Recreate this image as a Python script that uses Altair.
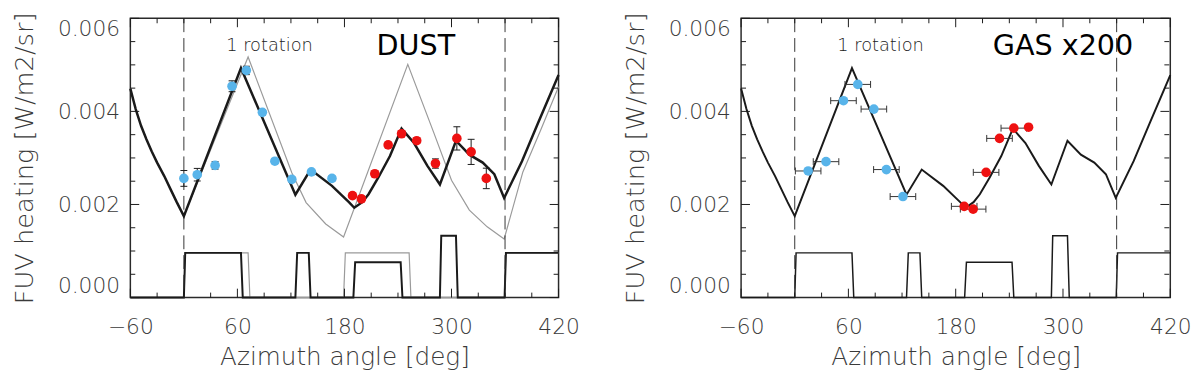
import altair as alt
import pandas as pd

# ---------------- data ----------------
MODEL_X = [-60, -54, -48, -42, -36, -30, -22, -15, -8, 0, 64, 125, 142, 166, 185, 191, 200, 207, 218, 231, 244,
           258, 273, 287, 305, 320, 335, 348, 359, 379, 397, 420]
MODEL_Y = [0.00449, 0.00405, 0.00369, 0.00340, 0.00314, 0.00290, 0.00261, 0.00233, 0.00205, 0.00175, 0.00493,
           0.00221, 0.00275, 0.00240, 0.00205, 0.00193, 0.00205, 0.00222, 0.00258, 0.00304, 0.00363, 0.00332,
           0.00283, 0.00243, 0.00337, 0.00307, 0.00290, 0.00265, 0.00214, 0.00293, 0.00375, 0.00478]

MODEL0_X = [-60, -54, -48, -42, -36, -30, -22, -15, -8, 0, 72, 121, 137, 159, 179, 251, 280, 300, 320, 340,
            359, 380, 400, 420]
MODEL0_Y = [0.00449, 0.00405, 0.00369, 0.00340, 0.00314, 0.00290, 0.00261, 0.00233, 0.00205, 0.00175, 0.00517,
            0.00268, 0.00204, 0.00158, 0.00130, 0.00501, 0.00355, 0.00252, 0.00188, 0.00152, 0.00126, 0.00270,
            0.00360, 0.00453]

STEP_X = [-60, 0, 1.5, 64, 66, 125, 127, 140, 142, 190, 192, 243, 245, 287, 288.5, 305, 307, 359.5, 361, 420]
STEP_Y = [0, 0, 0.00096, 0.00096, 0, 0, 0.00096, 0.00096, 0, 0, 0.00076, 0.00076, 0, 0, 0.00133, 0.00133,
          0, 0, 0.00096, 0.00096]

STEP0_X = [-60, 0, 1.5, 72, 74, 179, 181, 252.5, 254.5, 359.5, 361, 420]
STEP0_Y = [0, 0, 0.00096, 0.00096, 0, 0, 0.00096, 0.00096, 0, 0, 0.00096, 0.00096]

DUST_BLUE_X = [0, 15, 35, 54, 70, 88, 102, 121, 143, 166]
DUST_BLUE_Y = [0.00256, 0.00264, 0.00284, 0.00454, 0.00488, 0.00398, 0.00293, 0.00254, 0.00270, 0.00256]
DUST_BLUE_ERR = [0.00017, 0.000135, 0.00008, 0.000117, 0.00009, 0.00006, 0.00005, 0.00005, 0.00005, 0.00005]

DUST_RED_X = [189, 199, 214, 229, 244, 261, 282, 306, 322, 339]
DUST_RED_Y = [0.00219, 0.00212, 0.00266, 0.00328, 0.00352, 0.00337, 0.00288, 0.00342, 0.00313, 0.00256]
DUST_RED_ERR = [0.00006, 0.00006, 0.00006, 0.00006, 0.00006, 0.00006, 0.0001, 0.00025, 0.00027, 0.00022]

GAS_BLUE_X = [15, 35, 54.5, 70.5, 88.5, 102.5, 121]
GAS_BLUE_Y = [0.00272, 0.00292, 0.00423, 0.00458, 0.00405, 0.00275, 0.00217]
GAS_BLUE_XERR = [14.3, 14.3, 14.3, 14.3, 14.3, 14.3, 14.3]

GAS_RED_X = [189.5, 199.5, 214, 229, 245, 261.5]
GAS_RED_Y = [0.00196, 0.00190, 0.00269, 0.00342, 0.00364, 0.00366]
GAS_RED_XERR = [14.3, 14.3, 14.3, 14.3, 14.3, 0]

ROTATION_LINES = [0, 360]
X_LABELS = [-60, 60, 180, 300, 420]
Y_LABELS = [0.0, 0.002, 0.004, 0.006]
XT_MAJOR = [-60, 60, 180, 300, 420]
XT_MINOR = [-30, 0, 30, 90, 120, 150, 210, 240, 270, 330, 360, 390]
YT_MAJOR = [0.0, 0.002, 0.004, 0.006]
YT_MINOR = [0.0005, 0.001, 0.0015, 0.0025, 0.003, 0.0035, 0.0045, 0.005, 0.0055]

TEXT_ROT = ("1 rotation", 96, 0.0054)
TEXT_DUST = ("DUST", 260, 0.0054)
TEXT_GAS = ("GAS  x200", 300, 0.0054)

# ---------------- layout / style ----------------
W, H = 434, 283
BLUE = "#58b4ea"
RED = "#ee1111"
GRAY = "#9a9a9a"
INK = "#1a1a1a"
TXT = "#3a3a3a"
FONT = "DejaVu Sans"

XAXIS = alt.Axis(values=X_LABELS, title="Azimuth angle [deg]", grid=False, ticks=False, tickSize=0,
                 domain=False, labelPadding=19, titlePadding=8, labelFlush=False, titleFontSize=25)
YAXIS = alt.Axis(values=Y_LABELS, title="FUV heating [W/m2/sr]", grid=False, ticks=False, tickSize=0,
                 domain=False, labelPadding=11, titlePadding=20, format=".3f", labelFlush=True,
                 titleFontSize=26)


def X(field):
    return alt.X(f"{field}:Q", scale=alt.Scale(domain=[-60, 420], nice=False, zero=False), axis=XAXIS)


def Y(field):
    return alt.Y(f"{field}:Q", scale=alt.Scale(domain=[0, 0.006], nice=False, zero=False), axis=YAXIS)


def line_df(xs, ys):
    return pd.DataFrame({"x": xs, "y": ys, "i": list(range(len(xs)))})


def line_layer(xs, ys, color, width):
    return alt.Chart(line_df(xs, ys)).mark_line(color=color, strokeWidth=width, interpolate="linear").encode(
        x=X("x"), y=Y("y"), order=alt.Order("i:Q"))


def tick_layers():
    out = []
    for vals, L in ((XT_MAJOR, 9), (XT_MINOR, 5)):
        df = pd.DataFrame({"t": vals})
        base = alt.Chart(df).mark_rule(color=INK, strokeWidth=1)
        out.append(base.encode(x=X("t"), y=alt.value(H), y2=alt.value(H - L)))
        out.append(base.encode(x=X("t"), y=alt.value(0), y2=alt.value(L)))
    for vals, L in ((YT_MAJOR, 9), (YT_MINOR, 5)):
        df = pd.DataFrame({"t": vals})
        base = alt.Chart(df).mark_rule(color=INK, strokeWidth=1)
        out.append(base.encode(y=Y("t"), x=alt.value(0), x2=alt.value(L)))
        out.append(base.encode(y=Y("t"), x=alt.value(W), x2=alt.value(W - L)))
    return out


def text_layer(spec, size, color, weight="normal"):
    t, x, y = spec
    df = pd.DataFrame({"label": [t], "x": [x], "y": [y]})
    return alt.Chart(df).mark_text(font=FONT, fontSize=size, color=color, fontWeight=weight,
                                   align="center", baseline="middle").encode(
        x=X("x"), y=Y("y"), text="label:N")


def yerr_layers(xs, ys, errs, color):
    df = pd.DataFrame({"x": xs, "y": ys, "e": errs})
    df["lo"] = df["y"] - df["e"]
    df["hi"] = df["y"] + df["e"]
    bar = alt.Chart(df).mark_rule(color=INK, strokeWidth=1).encode(x=X("x"), y=Y("lo"), y2="hi:Q")
    cap_lo = alt.Chart(df).mark_rule(color=INK, strokeWidth=1, xOffset=-3.5, x2Offset=3.5).encode(
        x=X("x"), x2="x:Q", y=Y("lo"))
    cap_hi = alt.Chart(df).mark_rule(color=INK, strokeWidth=1, xOffset=-3.5, x2Offset=3.5).encode(
        x=X("x"), x2="x:Q", y=Y("hi"))
    pts = alt.Chart(df).mark_point(filled=True, shape="circle", size=95, color=color, opacity=1).encode(
        x=X("x"), y=Y("y"))
    return [bar, cap_lo, cap_hi, pts]


def xerr_layers(xs, ys, errs, color):
    df = pd.DataFrame({"x": xs, "y": ys, "e": errs})
    df["lo"] = df["x"] - df["e"]
    df["hi"] = df["x"] + df["e"]
    de = df[df["e"] > 0]
    bar = alt.Chart(de).mark_rule(color="#333", strokeWidth=1).encode(x=X("lo"), x2="hi:Q", y=Y("y"))
    cap_lo = alt.Chart(de).mark_rule(color="#333", strokeWidth=1, yOffset=-3.5, y2Offset=3.5).encode(
        x=X("lo"), y=Y("y"), y2="y:Q")
    cap_hi = alt.Chart(de).mark_rule(color="#333", strokeWidth=1, yOffset=-3.5, y2Offset=3.5).encode(
        x=X("hi"), y=Y("y"), y2="y:Q")
    pts = alt.Chart(df).mark_point(filled=True, shape="circle", size=95, color=color, opacity=1).encode(
        x=X("x"), y=Y("y"))
    return [bar, cap_lo, cap_hi, pts]


def dashed():
    df = pd.DataFrame({"x": ROTATION_LINES})
    return alt.Chart(df).mark_rule(color="#333", strokeWidth=1, strokeDash=[14, 6]).encode(x=X("x"))


# left panel (DUST)
left_layers = [
    line_layer(STEP0_X, STEP0_Y, GRAY, 1.2),
    line_layer(MODEL0_X, MODEL0_Y, GRAY, 1.2),
    line_layer(STEP_X, STEP_Y, INK, 2),
    dashed(),
    line_layer(MODEL_X, MODEL_Y, INK, 2.5),
]
left_layers += yerr_layers(DUST_BLUE_X, DUST_BLUE_Y, DUST_BLUE_ERR, BLUE)
left_layers += yerr_layers(DUST_RED_X, DUST_RED_Y, DUST_RED_ERR, RED)
left_layers += [text_layer(TEXT_ROT, 18, "#222", 200), text_layer(TEXT_DUST, 29, "#000")]
left_layers += tick_layers()
left = alt.layer(*left_layers).properties(width=W, height=H)

# right panel (GAS x200)
right_layers = [
    line_layer(STEP_X, STEP_Y, INK, 1.5),
    dashed(),
    line_layer(MODEL_X, MODEL_Y, INK, 2),
]
right_layers += xerr_layers(GAS_BLUE_X, GAS_BLUE_Y, GAS_BLUE_XERR, BLUE)
right_layers += xerr_layers(GAS_RED_X, GAS_RED_Y, GAS_RED_XERR, RED)
right_layers += [text_layer(TEXT_ROT, 18, "#222", 200), text_layer(TEXT_GAS, 29, "#000")]
right_layers += tick_layers()
right = alt.layer(*right_layers).properties(width=W + 1, height=H)

chart = alt.hconcat(left, right, spacing=42).properties(
    padding={"left": 3, "top": 0, "right": 0, "bottom": 0}
).configure_view(
    stroke="#2a2a2a", strokeWidth=1.5
).configure_axis(
    labelFont=FONT, labelFontSize=22, labelColor=TXT, labelFontWeight=200,
    titleFont=FONT, titleColor=TXT, titleFontWeight=200
)

chart.save("out.html", embed_options={"renderer": "svg", "actions": False})
